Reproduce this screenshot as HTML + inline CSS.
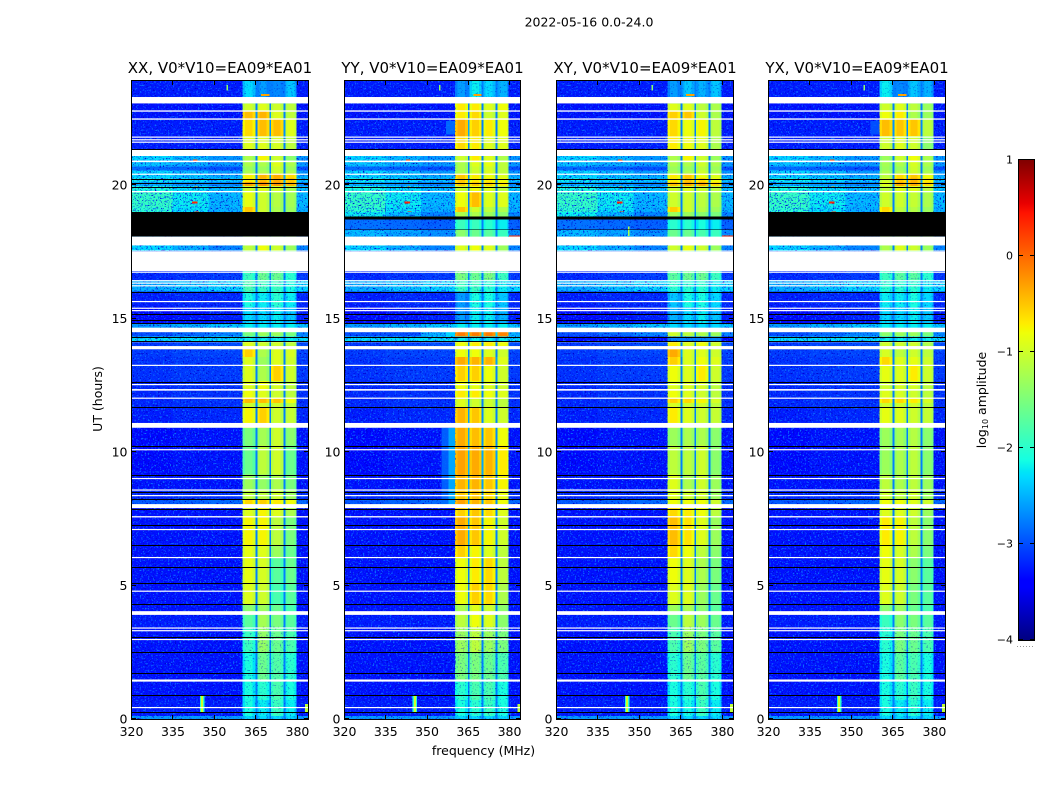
<!DOCTYPE html>
<html lang="en">
<head>
<meta charset="utf-8">
<title>2022-05-16 0.0-24.0</title>
<style>
html,body{margin:0;padding:0;background:#fff;width:1050px;height:800px;overflow:hidden}
svg{display:block}
text{font-family:"DejaVu Sans","Liberation Sans",sans-serif;fill:#000}
</style>
</head>
<body>
<svg id="chart" xmlns="http://www.w3.org/2000/svg" width="1050" height="800" viewBox="0 0 1050 800">
<defs>
<filter id="speck-light" x="0" y="0" width="1" height="1" color-interpolation-filters="sRGB">
<feTurbulence type="fractalNoise" baseFrequency="0.6" numOctaves="2" seed="3"/>
<feColorMatrix type="matrix" values="0 0 0 0 0.04  0 0 0 0 0.42  0 0 0 0 1  7 0 0 0 -4.0"/>
</filter>
<filter id="speck-dark" x="0" y="0" width="1" height="1" color-interpolation-filters="sRGB">
<feTurbulence type="fractalNoise" baseFrequency="0.6" numOctaves="2" seed="11"/>
<feColorMatrix type="matrix" values="0 0 0 0 0  0 0 0 0 0  0 0 0 0 0.8  7 0 0 0 -4.3"/>
</filter>
<linearGradient id="jet-gradient" x1="0" y1="1" x2="0" y2="0"></linearGradient>
</defs>
<text x="589" y="26.5" font-size="12.5" text-anchor="middle">2022-05-16 0.0-24.0</text>
<text x="483.5" y="755" font-size="12.5" text-anchor="middle">frequency (MHz)</text>
<text x="0" y="0" font-size="12.5" text-anchor="middle" transform="translate(102,399) rotate(-90)">UT (hours)</text>
<g id="panels"></g>
<g id="colorbar"></g>
<text x="0" y="0" font-size="12.5" text-anchor="middle" transform="translate(986,400) rotate(-90)">log<tspan font-size="8" dy="2">10</tspan><tspan dy="-2"> amplitude</tspan></text>
</svg>
<script>
// ---------- chart data ----------
const panelTitles = ["XX, V0*V10=EA09*EA01", "YY, V0*V10=EA09*EA01", "XY, V0*V10=EA09*EA01", "YX, V0*V10=EA09*EA01"];
const freqTicks = [320, 335, 350, 365, 380];
const utTicks = [0, 5, 10, 15, 20];
const colorbarTicks = [-4, -3, -2, -1, 0, 1];

// channel groups (MHz edges) and which level each one reads: 0 bgLeft, 1 bgRight, 2-5 bands A-D, 6 bgMiddle
const freqEdges = [320, 335, 348, 360.4, 361.2, 364, 365, 365.7, 366.5, 369, 370, 370.7, 371.5, 374, 375.1, 375.8, 376.6, 379.2, 379.9, 384];
const colSource = [0, 6, 1, 2, 2, 2, 2, 3, 3, 3, 3, 4, 4, 4, 4, 5, 5, 5, 1];
const colOffset = [0, 0, 0, -0.15, 0, -0.15, -2.2, -0.15, 0, -0.15, -2.2, -0.15, 0, -0.15, -2.2, -0.1, 0, -0.15, 0];

// upper UT edge of each time row (each row ends where the next starts; last ends at 0)
const rowTops = [23.90, 23.06, 22.77, 22.47, 21.84, 21.09, 20.88, 20.70, 20.55, 20.43, 20.26, 20.11, 19.96, 19.78, 19.18, 18.99, 18.75, 18.32, 18.07, 17.74, 17.52, 16.78, 16.44, 16.01, 15.43, 14.84, 14.66, 14.49, 14.33, 14.16, 13.85, 13.56, 13.26, 12.66, 12.32, 12.00, 11.84, 11.65, 10.90, 10.24, 9.16, 8.60, 8.24, 7.90, 7.60, 6.52, 6.07, 5.09, 4.31, 3.90, 3.45, 2.51, 1.46, 0.71, 0.11];
const bgLeft = [-3.25, -3.3, -3.3, -3.25, -3.25, -2.3, -2.4, -2.85, -2.3, -2.3, -2.2, -2.5, -2.1, -1.95, -2.0, -2.2, -2.8, -2.45, -2.5, -2.3, -3, -3.2, -2.5, -3.25, -3.35, -2.6, -2.6, -3.0, -2.25, -3.1, -3.1, -3.15, -3.15, -3.2, -3.2, -3.2, -3.2, -3.25, -3.35, -3.35, -3.3, -3.2, -2.95, -3.3, -3.3, -3.3, -3.3, -3.3, -3.3, -3.25, -3.3, -3.3, -3.3, -3.25, -2.6];
const bgMiddle = [-3.25, -3.3, -3.3, -3.25, -3.25, -2.45, -2.5, -2.9, -2.45, -2.4, -2.3, -2.6, -2.25, -2.2, -2.25, -2.45, -2.85, -2.55, -2.6, -2.5, -3, -3.15, -2.4, -3.2, -3.3, -2.5, -2.5, -2.85, -2.25, -3.05, -3.05, -3.1, -3.1, -3.15, -3.15, -3.15, -3.15, -3.2, -3.3, -3.3, -3.3, -3.15, -2.9, -3.3, -3.3, -3.3, -3.3, -3.3, -3.3, -3.25, -3.3, -3.3, -3.3, -3.25, -2.6];
const bgRight = [-3.25, -3.3, -3.3, -3.25, -3.25, -2.6, -2.6, -3.0, -2.6, -2.5, -2.4, -2.7, -2.4, -2.45, -2.5, -2.7, -2.9, -2.65, -2.7, -2.7, -3, -3.1, -2.3, -3.2, -3.25, -2.4, -2.4, -2.7, -2.25, -3.0, -3.05, -3.1, -3.1, -3.15, -3.15, -3.15, -3.15, -3.2, -3.3, -3.3, -3.3, -3.15, -2.85, -3.3, -3.3, -3.3, -3.3, -3.3, -3.3, -3.25, -3.3, -3.3, -3.3, -3.25, -2.6];
// panel, row index, bgLeft, bgRight
const bgOverrides = [[2, 28, -3.6, -3.6], [1, 27, -3.0, -2.5]];

// log10 amplitude in the four sub-bands, one entry per time row
const xxBands = [[-2.3,-2.6,-2.7,-2.4],[-1.0,-.9,-1.0,-1.1],[-.45,-.4,-.9,-1.1],[-.6,-.45,-.45,-.9],[-.9,-.9,-.95,-1.1],[-1.2,-.75,-1.0,-1.4],[-1.2,-1.2,-.9,-1.2],[-1.3,-1.3,-1.0,-1.3],[-1.2,-1.2,-1.0,-1.2],[-.7,-.4,-.35,-.6],[-.7,-.45,-.35,-.5],[-.3,-.2,-.25,-.4],[-1,-.9,-1,-1.2],[-.85,-1,-1.15,-1.25],[-.5,-1,-1.2,-1.3],[-1.5,-1.5,-1.5,-1.5],[-1.5,-1.5,-1.5,-1.5],[-1.5,-1.5,-1.5,-1.5],[-1.5,-1.5,-1.5,-1.5],[-1.1,-.8,-1.0,-1.3],[-1.5,-1.5,-1.5,-1.5],[-1.9,-1.6,-1.6,-2.0],[-1.8,-1.9,-1.9,-2.1],[-2.1,-2.2,-2.0,-2.2],[-2.3,-2.3,-2.2,-2.4],[-2.2,-2.2,-2.2,-2.2],[-2.2,-2.2,-2.2,-2.2],[-1.5,-1.3,-1.3,-1.5],[-2.2,-2.2,-2.2,-2.2],[-.9,-1,-1,-1.1],[-.55,-1.2,-.9,-.95],[-.9,-1.3,-.9,-1.0],[-.9,-1.2,-.55,-1.0],[-.9,-.8,-.95,-1.1],[-.8,-.9,-1,-1.1],[-.45,-.45,-.5,-.8],[-1,-1,-1,-1.1],[-.75,-.55,-1,-1.05],[-1.5,-1.25,-1,-1.4],[-1.6,-1.1,-1,-1.6],[-1.3,-1.35,-1.2,-1.5],[-1.1,-1.1,-1,-1.3],[-.6,-.55,-.7,-.8],[-.9,-.75,-.9,-1.2],[-.75,-.75,-1.1,-1.5],[-.85,-.9,-1.3,-1.6],[-.85,-.95,-1.7,-1.6],[-.9,-1,-1.8,-1.7],[-1.4,-1.3,-1.6,-1.8],[-1.7,-1.25,-1.5,-1.7],[-1.9,-1.35,-1.6,-1.8],[-2.1,-1.6,-1.75,-2.0],[-2.1,-2,-1.8,-2.1],[-2.1,-2.2,-1.9,-2.2],[-2.3,-2.3,-2.3,-2.3]];
const yyBands = [[-2.6,-2.2,-2.3,-2.5],[-.7,-.7,-.9,-.8],[-.7,-.6,-1,-.9],[-.35,-.55,-.7,-.8],[-.6,-.7,-.9,-.9],[-1,-.7,-.9,-1.2],[-1.2,-.9,-.85,-1.1],[-1.2,-1,-.95,-1.1],[-1.2,-1,-.9,-1.1],[-.5,-.7,-.8,-.9],[-.5,-.7,-.7,-.8],[-.5,-.5,-.55,-.7],[-1,-.8,-.9,-1.1],[-.8,-.45,-.9,-.9],[-.5,-1.0,-1.1,-1.2],[-1.2,-1.2,-1.3,-1.4],[-1.9,-1.9,-2,-2.2],[-1.4,-1.6,-1.7,-1.9],[-1.5,-1.5,-1.5,-1.5],[-.9,-.8,-.9,-1.3],[-1.5,-1.5,-1.5,-1.5],[-1.5,-1.6,-1.5,-1.9],[-1.9,-1.9,-2,-2.2],[-2.6,-2.1,-2.1,-2.4],[-2.6,-2.2,-2.2,-2.5],[-2.2,-2.2,-2.2,-2.2],[-2.2,-2.2,-2.2,-2.2],[-.1,-.1,-.1,-.15],[-2.2,-2.2,-2.2,-2.2],[-.8,-.7,-.7,-.8],[-.8,-.8,-.9,-1],[-.35,-.4,-.4,-.9],[-.55,-.55,-.8,-1],[-.8,-.85,-.9,-1],[-.7,-.7,-.8,-.9],[-.9,-1,-1,-1.1],[-.9,-1,-1,-1.1],[-.4,-.5,-.9,-1.0],[-.35,-.45,-.5,-.8],[-.3,-.35,-.4,-.7],[-.4,-.4,-.5,-.75],[-.5,-.5,-.6,-.85],[-.3,-.4,-.5,-.8],[-.55,-.5,-.6,-.9],[-.35,-.5,-.75,-1],[-.55,-.75,-.9,-1.1],[-.8,-.7,-.6,-1.1],[-.8,-.55,-.6,-1.2],[-1.2,-.9,-1,-1.4],[-1.1,-.8,-.9,-1.4],[-1.3,-1.1,-1.3,-1.5],[-1.5,-1.5,-1.6,-1.8],[-2,-1.8,-1.8,-2.1],[-2.1,-2,-1.9,-2.1],[-2.3,-2.3,-2.3,-2.3]];
const xyBands = [[-2.6,-2.4,-2.5,-2.4],[-.9,-.9,-1.1,-1.2],[-.55,-.5,-1,-1.2],[-.6,-.8,-.75,-1.1],[-.7,-.8,-.9,-1.2],[-1.2,-.75,-1,-1.3],[-1.2,-1.2,-1.0,-1.2],[-1.3,-1.3,-1.1,-1.3],[-1.2,-1.2,-1,-1.2],[-.7,-.5,-.8,-.9],[-.7,-.5,-.6,-.8],[-.45,-.35,-.35,-.6],[-1,-.9,-1,-1.1],[-1,-1,-1.1,-1.2],[-.55,-1,-1.15,-1.3],[-1.3,-1.3,-1.4,-1.5],[-2,-2,-2.1,-2.2],[-1.6,-1.6,-1.8,-1.9],[-1.6,-1.6,-1.8,-1.9],[-1,-.85,-1,-1.3],[-1.6,-1.6,-1.6,-1.6],[-1.7,-1.6,-1.6,-1.9],[-2,-2,-2,-2.2],[-2.4,-2.1,-2.1,-2.3],[-2.5,-2.3,-2.2,-2.4],[-2.3,-2.3,-2.3,-2.3],[-2.3,-2.3,-2.3,-2.3],[-1.0,-1.1,-1.2,-1.3],[-2.8,-2.8,-2.8,-2.9],[-.7,-.9,-.8,-1],[-.35,-.9,-.9,-1],[-.55,-.9,-.8,-.9],[-.8,-.9,-.7,-1],[-.9,-.9,-.95,-1.1],[-.8,-.9,-1,-1.1],[-.55,-.6,-.75,-.95],[-.95,-1,-1,-1.1],[-.7,-.9,-1,-1.05],[-1.3,-1.2,-1.2,-1.4],[-1.1,-1.1,-1,-1.4],[-.9,-1.2,-1,-1.3],[-.9,-1,-1,-1.3],[-.8,-.8,-.8,-1],[-.6,-.7,-.8,-1.1],[-.45,-.65,-.9,-1.3],[-.6,-.8,-1.1,-1.4],[-.8,-.9,-1.2,-1.5],[-.9,-.9,-1.3,-1.6],[-1.3,-1.2,-1.4,-1.7],[-1.6,-1.1,-1.3,-1.6],[-1.8,-1.3,-1.5,-1.7],[-2.0,-1.6,-1.7,-2],[-2.1,-2,-1.8,-2.1],[-2.1,-2.1,-1.9,-2.2],[-2.3,-2.3,-2.3,-2.3]];
const yxBands = [[-2.2,-2.7,-2.4,-2.5],[-1,-.9,-1.1,-1.3],[-.8,-.7,-1.2,-1.3],[-.45,-.5,-.5,-1.1],[-1,-.9,-1,-1.4],[-1.3,-1,-.8,-1.2],[-1.25,-1.2,-.95,-1.2],[-1.3,-1.3,-1,-1.3],[-1.2,-1.2,-1,-1.2],[-1.1,-.6,-.5,-.8],[-1,-.5,-.4,-.7],[-.9,-.35,-.35,-.6],[-1.1,-.9,-.9,-1.1],[-1,-1,-1.05,-1.2],[-.6,-1.1,-1.15,-1.3],[-1.5,-1.5,-1.5,-1.5],[-1.5,-1.5,-1.5,-1.5],[-1.5,-1.5,-1.5,-1.5],[-1.5,-1.5,-1.5,-1.5],[-1.2,-.9,-1,-1.3],[-1.5,-1.5,-1.5,-1.5],[-1.9,-1.7,-1.7,-2],[-2,-2,-2,-2.2],[-2.2,-2.2,-2.1,-2.3],[-2.3,-2.3,-2.2,-2.4],[-2.2,-2.2,-2.2,-2.2],[-2.2,-2.2,-2.2,-2.2],[-1.4,-1.3,-1.3,-1.5],[-2.2,-2.2,-2.2,-2.2],[-1,-1,-1,-1.2],[-.95,-1.1,-1,-1.1],[-.6,-.9,-.85,-1],[-.85,-.9,-.7,-1],[-1,-.95,-.95,-1.1],[-.9,-.95,-1,-1.1],[-.6,-.6,-.7,-.95],[-1,-1,-1,-1.1],[-.85,-.9,-1,-1.05],[-1.3,-1.25,-1.15,-1.4],[-1.3,-1.2,-1.1,-1.4],[-1.1,-1.2,-1.1,-1.3],[-1,-1.1,-1,-1.3],[-.8,-.8,-.9,-1],[-.9,-.9,-1,-1.3],[-.7,-.75,-1.1,-1.4],[-.8,-.95,-1.2,-1.5],[-.85,-.95,-1.4,-1.7],[-.9,-1,-1.5,-1.7],[-1.4,-1.3,-1.6,-1.8],[-1.9,-1.4,-1.5,-1.7],[-2,-1.5,-1.6,-1.8],[-2.1,-1.7,-1.8,-2.1],[-2.1,-2,-1.9,-2.1],[-2.1,-2.2,-2,-2.2],[-2.3,-2.3,-2.3,-2.3]];
const panelBands = [xxBands, yyBands, xyBands, yxBands];

// extra emission near the band edge: panel, freqStart, utTop, utBottom, level
const halos = [[1, 355.5, 10.90, 7.90, -2.85], [1, 358, 10.90, 7.90, -2.5], [1, 357, 22.4, 21.9, -2.8], [1, 357, 14.49, 14.33, -2.3], [3, 357, 22.4, 21.9, -2.95]];
// narrow interference: panel (-1 all), freqStart, freqEnd, utTop, utBottom, level
const spikes = [[-1, 345.4, 346.1, 0.86, 0.22, -1.0], [-1, 344.9, 346.6, 0.86, 0.22, -2.0], [-1, 383, 384, 0.56, 0.26, -1.1], [-1, 342, 344, 19.38, 19.32, 0.35], [-1, 342.5, 344, 20.96, 20.91, 0.2], [-1, 343, 344, 19.95, 19.91, -0.2], [-1, 343, 344.5, 19.02, 18.99, 0.3], [-1, 367, 370, 23.42, 23.34, -0.3], [-1, 380, 384, 18.11, 18.07, 0.3], [-1, 354.6, 355.1, 23.75, 23.55, -1.4], [2, 346, 346.6, 18.45, 18.1, -1.2]];
// time ranges where the sub-bands look mottled: utTop, utBottom
const mottledRanges = [[23.9, 23.3], [17.0, 14.84], [14.33, 14.16], [3.45, 0]];

// flagged (blank) time ranges: utTop, utBottom
const whiteBands = [[23.30,23.06],[22.80,22.75],[22.50,22.45],[21.82,21.78],[21.72,21.69],[21.63,21.59],[21.32,21.09],[20.92,20.86],[20.43,20.39],[19.78,19.73],[18.07,17.74],[17.55,17.52],[17.50,16.78],[16.76,16.72],[16.44,16.40],[16.35,16.31],[16.25,16.22],[15.66,15.63],[15.41,15.37],[15.32,15.28],[14.66,14.49],[14.16,14.12],[13.97,13.85],[13.27,13.23],[12.55,12.51],[12.36,12.30],[12.04,12.00],[11.09,10.91],[10.11,10.07],[9.03,8.99],[8.60,8.56],[8.39,8.35],[8.05,7.90],[7.60,7.55],[7.12,7.08],[6.07,6.03],[4.81,4.78],[4.04,3.90],[3.43,3.40],[3.33,3.30],[3.00,2.96],[1.48,1.40],[0.45,0.41]];
// zero-amplitude integrations, centre UT
const blackLines = [21.35, 20.24, 20.09, 20.07, 19.94, 16.00, 15.17, 14.94, 14.84, 14.32, 14.17, 12.64, 11.67, 10.24, 9.15, 8.50, 8.24, 7.88, 7.28, 6.51, 5.68, 5.08, 4.32, 4.29, 3.08, 2.50, 1.71, 0.89, 0.26];
// per-panel zero blocks: panel, utTop, utBottom
const blackBlocks = [[0, 18.99, 18.07], [3, 18.99, 18.07], [1, 18.82, 18.72], [2, 18.82, 18.72], [1, 18.34, 18.31], [2, 18.34, 18.31]];

// ---------- layout ----------
const panelBoxes = [[131, 308], [344, 520], [556, 733], [768, 945]];
const plotTop = 81, plotBottom = 719;
const freqMin = 320, freqMax = 384, utMin = 0, utMax = 23.9;
const colorMin = -4, colorMax = 1;
const gapFloor = -2.75, cellFloor = -3.45;
const thinWhitePixels = 1.2, blackLinePixels = 1;
const svgNS = "http://www.w3.org/2000/svg";

function xScale(panel, f) {
  const b = panelBoxes[panel];
  return b[0] + (f - freqMin) / (freqMax - freqMin) * (b[1] - b[0]);
}
function yScale(u) {
  return plotBottom - (u - utMin) / (utMax - utMin) * (plotBottom - plotTop);
}
function ramp(t, pts) {
  for (let i = 1; i < pts.length; i++) {
    if (t <= pts[i][0]) {
      const a = pts[i - 1], b = pts[i];
      return a[1] + (b[1] - a[1]) * (t - a[0]) / (b[0] - a[0]);
    }
  }
  return pts[pts.length - 1][1];
}
function jet(t) {
  t = Math.min(1, Math.max(0, t));
  const r = ramp(t, [[0, 0], [0.35, 0], [0.66, 1], [0.89, 1], [1, 0.5]]);
  const g = ramp(t, [[0, 0], [0.125, 0], [0.375, 1], [0.64, 1], [0.91, 0], [1, 0]]);
  const b = ramp(t, [[0, 0.5], [0.11, 1], [0.34, 1], [0.65, 0], [1, 0]]);
  return "rgb(" + Math.round(r * 255) + "," + Math.round(g * 255) + "," + Math.round(b * 255) + ")";
}
function levelColor(v) {
  return jet((v - colorMin) / (colorMax - colorMin));
}
function make(tag, attrs, parent) {
  const el = document.createElementNS(svgNS, tag);
  for (const k in attrs) el.setAttribute(k, attrs[k]);
  parent.appendChild(el);
  return el;
}
function band(panel, f0, f1, uTop, uBottom, fill, parent) {
  const x0 = xScale(panel, f0), x1 = xScale(panel, f1), y0 = yScale(uTop), y1 = yScale(uBottom);
  return make("rect", {x: x0, y: y0, width: x1 - x0, height: y1 - y0, fill: fill, "shape-rendering": "crispEdges"}, parent);
}

// ---------- panels ----------
const panelsGroup = document.getElementById("panels");
const panelKeys = ["xx", "yy", "xy", "yx"];

panelTitles.forEach(function (title, p) {
  const g = make("g", {}, panelsGroup);
  
  

  // heatmap cells
  const bands = panelBands[p];
  rowTops.forEach(function (top, r) {
    const bottom = r + 1 < rowTops.length ? rowTops[r + 1] : 0;
    const levels = [bgLeft[r], bgRight[r]].concat(bands[r], [bgMiddle[r]]);
    bgOverrides.forEach(function (o) {
      if (o[0] === p && o[1] === r) { levels[0] = o[2]; levels[1] = o[3]; levels[6] = o[2]; }
    });
    colSource.forEach(function (src, c) {
      const floor = (src >= 2 && src <= 5) ? gapFloor : cellFloor;
      const v = Math.max(levels[src] + colOffset[c], floor);
      const cell = band(p, freqEdges[c], freqEdges[c + 1], top, bottom, levelColor(v), g);
      
      
    });
  });

  // background speckle on the off-band channels
  [[320, 360.4], [379.9, 384]].forEach(function (range) {
    const light = band(p, range[0], range[1], utMax, 0, "#000", g);
    light.setAttribute('filter', 'url(#speck-light)');
    
    
    const dark = band(p, range[0], range[1], utMax, 0, "#000", g);
    dark.setAttribute('filter', 'url(#speck-dark)');
    
    
  });

  mottledRanges.forEach(function (m) {
    const mottle = band(p, 360.4, 379.9, m[0], m[1], "#000", g);
    mottle.setAttribute('filter', 'url(#speck-dark)');
    mottle.setAttribute('opacity', '0.45');
    
    
  });

  halos.forEach(function (h) {
    if (h[0] !== p) return;
    const halo = band(p, h[1], 360.4, h[2], h[3], levelColor(h[4]), g);
    halo.setAttribute('opacity', '0.85');
    
    
  });

  spikes.slice().reverse().forEach(function (s) {
    if (s[0] !== -1 && s[0] !== p) return;
    const spike = band(p, s[1], s[2], s[3], s[4], levelColor(s[5]), g);
    
    
  });

  const box = panelBoxes[p];

  whiteBands.forEach(function (w) {
    const y0 = yScale(w[0]), h = yScale(w[1]) - y0;
    const flag = make("rect", {x: box[0], y: y0, width: box[1] - box[0], height: Math.max(h, thinWhitePixels), fill: "#fff"}, g);
    
    
  });

  blackLines.forEach(function (u) {
    const line = make("rect", {x: box[0], y: Math.round(yScale(u)), width: box[1] - box[0], height: blackLinePixels, fill: "#000", "shape-rendering": "crispEdges"}, g);
    
    
  });

  blackBlocks.forEach(function (b) {
    if (b[0] !== p) return;
    const block = band(p, freqMin, freqMax, b[1], b[2], "#000", g);
    
    
  });

  // frame
  const frame = make("rect", {x: box[0] + 0.5, y: plotTop - 0.5, width: box[1] - box[0], height: plotBottom - plotTop + 1, fill: "none", stroke: "#000", "stroke-width": 1}, g);
  
  

  // frequency ticks
  freqTicks.forEach(function (f) {
    const x = Math.round(xScale(p, f)) + 0.5;
    const bottomTick = make("line", {x1: x, x2: x, y1: plotBottom, y2: plotBottom - 4, stroke: "#000"}, g);
    
    
    const topTick = make("line", {x1: x, x2: x, y1: plotTop, y2: plotTop + 4, stroke: "#000"}, g);
    
    
    const label = make("text", {x: xScale(p, f) + 0.5, y: 736, "font-size": 12.5, "text-anchor": "middle"}, g);
    label.textContent = String(f);
    
    
  });

  // UT ticks
  utTicks.forEach(function (u) {
    const y = Math.round(yScale(u)) - 0.5;
    const leftTick = make("line", {x1: box[0] + 1, x2: box[0] + 5, y1: y, y2: y, stroke: "#000"}, g);
    
    
    const rightTick = make("line", {x1: box[1], x2: box[1] - 4, y1: y, y2: y, stroke: "#000"}, g);
    
    
    const label = make("text", {x: box[0] - 3.5, y: yScale(u) + 4.5, "font-size": 12.5, "text-anchor": "end"}, g);
    label.textContent = String(u);
    
    
  });

  const titleEl = make("text", {x: (box[0] + box[1]) / 2 + 0.5, y: 73, "font-size": 15, "text-anchor": "middle"}, g);
  titleEl.textContent = title;
  
  
});

// ---------- colorbar ----------
const cb = document.getElementById("colorbar");
const cbLeft = 1019, cbRight = 1034, cbTop = 160, cbBottom = 640;
function cbY(v) {
  return cbBottom - (v - colorMin) / (colorMax - colorMin) * (cbBottom - cbTop);
}
const gradient = document.getElementById("jet-gradient");
const gradientStops = [0, 0.11, 0.125, 0.34, 0.35, 0.375, 0.64, 0.65, 0.66, 0.89, 0.91, 1];
gradientStops.forEach(function (t) {
  make("stop", {offset: t, "stop-color": jet(t)}, gradient);
});
const cbBar = make("rect", {x: cbLeft, y: cbTop, width: cbRight - cbLeft, height: cbBottom - cbTop, fill: "url(#jet-gradient)"}, cb);


const cbFrame = make("rect", {x: cbLeft - 0.5, y: cbTop - 0.5, width: cbRight - cbLeft + 1, height: cbBottom - cbTop + 1, fill: "none", stroke: "#000"}, cb);


colorbarTicks.forEach(function (v) {
  const y = Math.round(cbY(v)) - 0.5;
  const l = make("line", {x1: cbLeft, x2: cbLeft + 4, y1: y, y2: y, stroke: "#000"}, cb);
  
  
  const r = make("line", {x1: cbRight, x2: cbRight - 4, y1: y, y2: y, stroke: "#000"}, cb);
  
  
  const t = make("text", {x: 1013, y: cbY(v) + 3.5, "font-size": 11, "text-anchor": "end"}, cb);
  t.textContent = String(v).replace("-", "\u2212");
  
  
});
const cbDots = make("line", {x1: 1017, x2: 1035, y1: 646.5, y2: 646.5, stroke: "#999", "stroke-dasharray": "1 2"}, cb);


</script>
</body>
</html>
